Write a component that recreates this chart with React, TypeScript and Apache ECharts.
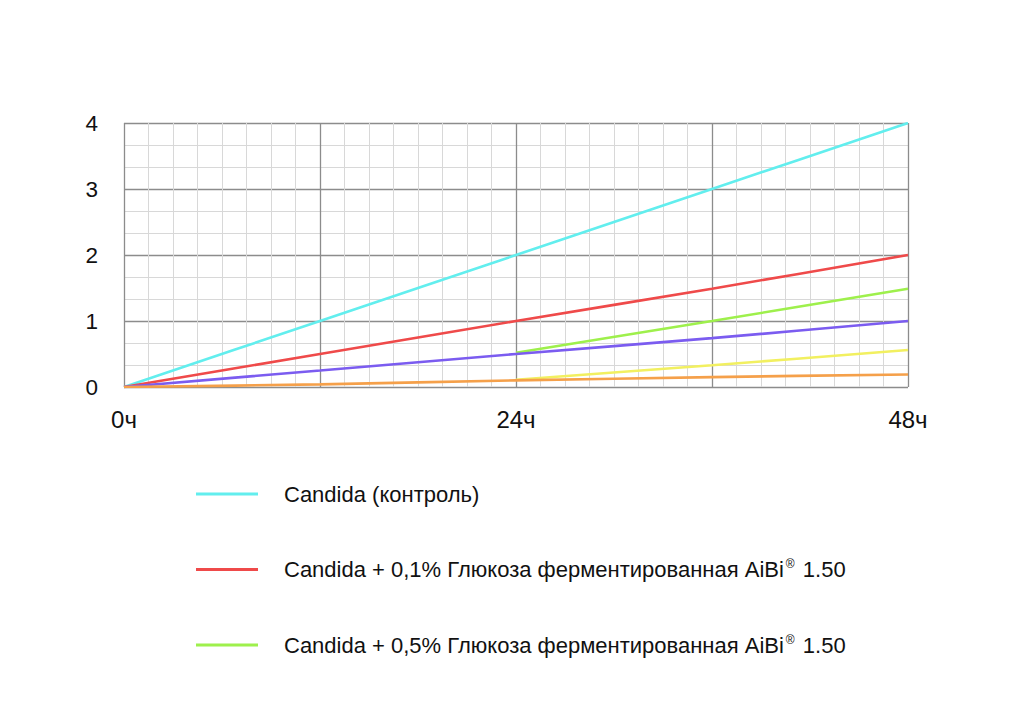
import React, { useEffect, useRef } from "react";
import * as echarts from "echarts";

const hours = [0, 12, 24, 36, 48];
const xTickLabels: Record<number, string> = { 0: "0ч", 24: "24ч", 48: "48ч" };
const seriesNames = [
  "Candida (контроль)",
  "Candida + 0,1% Глюкоза ферментированная AiBi® 1.50",
  "Candida + 0,5% Глюкоза ферментированная AiBi® 1.50",
  "yellow",
  "purple",
  "orange",
];
const cyanValues = [0, 1, 2, 3, 4];
const redValues = [0, 0.5, 1, 1.49, 2];
const greenValues = [null, null, 0.52, 1.0, 1.49];
const yellowValues = [null, null, 0.11, 0.33, 0.56];
const purpleValues = [0, 0.25, 0.5, 0.74, 1.0];
const orangeValues = [0, 0.04, 0.1, 0.15, 0.19];
const colors = ["#62eeee", "#ef4a4a", "#9ef04c", "#f2f060", "#7b5cf0", "#f5a04a"];

const FONT = "'Liberation Sans', Arial, Helvetica, sans-serif";

export default function App() {
  const ref = useRef<HTMLDivElement>(null);
  useEffect(() => {
    if (!ref.current) return;
    const chart = echarts.init(ref.current, undefined, { renderer: "svg" });
    const all = [cyanValues, redValues, greenValues, yellowValues, purpleValues, orangeValues];
    const series = all.map((vals, i) => ({
      name: seriesNames[i],
      type: "line",
      data: hours.map((h, j) => [h, vals[j]]),
      showSymbol: false,
      smooth: 0.3,
      connectNulls: false,
      lineStyle: { color: colors[i], width: 2.6 },
      itemStyle: { color: colors[i] },
      z: i === 4 || i === 5 ? 3 : 2,
    }));
    const supFmt = (name: string) => {
      if (name.indexOf("®") >= 0) {
        const parts = name.split("®");
        return `{t|${parts[0]}}{s|®}{t|${parts[1]}}`;
      }
      return `{t|${name}}`;
    };
    chart.setOption({
      animation: false,
      textStyle: { fontFamily: FONT },
      grid: { left: 124, right: 116, top: 123, height: 264, containLabel: false },
      xAxis: {
        type: "value",
        min: 0,
        max: 48,
        interval: 12,
        axisLine: { show: false },
        axisTick: { show: false },
        axisLabel: {
          formatter: (v: number) => xTickLabels[v] || "",
          color: "#111",
          fontSize: 24,
          margin: 20,
          fontFamily: FONT,
        },
        splitLine: { show: true, lineStyle: { color: "#8c8c8c", width: 1.3 } },
        minorTick: { show: false, splitNumber: 8 },
        minorSplitLine: { show: true, lineStyle: { color: "#d8d8d8", width: 1 } },
      },
      yAxis: {
        type: "value",
        min: 0,
        max: 4,
        interval: 1,
        axisLine: { show: false },
        axisTick: { show: false },
        axisLabel: { color: "#111", fontSize: 22.5, margin: 26, fontFamily: FONT },
        splitLine: { show: true, lineStyle: { color: "#8c8c8c", width: 1.3 } },
        minorTick: { show: false, splitNumber: 3 },
        minorSplitLine: { show: true, lineStyle: { color: "#d8d8d8", width: 1 } },
      },
      legend: {
        data: seriesNames.slice(0, 3),
        orient: "vertical",
        left: 191,
        top: 478,
        itemWidth: 62,
        itemHeight: 3,
        itemGap: 53,
        icon: "rect",
        formatter: supFmt,
        textStyle: {
          padding: [0, 0, 0, 21],
          rich: {
            t: { fontSize: 22, color: "#111", fontFamily: FONT, lineHeight: 23 },
            s: { fontSize: 12, color: "#111", fontFamily: FONT, verticalAlign: "top", lineHeight: 23, padding: [0, 2, 8, 2] },
          },
        },
      },
      series,
    });
    return () => chart.dispose();
  }, []);
  return (
    <div
      ref={ref}
      style={{ position: "fixed", left: 0, top: 0, width: 1024, height: 724, background: "#fff" }}
    />
  );
}
